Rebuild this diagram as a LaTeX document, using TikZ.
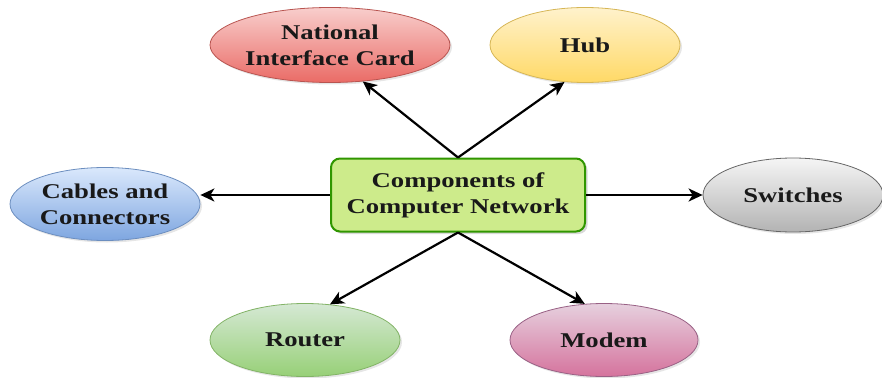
\documentclass[tikz,border=0pt]{standalone}
\usepackage{fontspec}
\setmainfont{Liberation Serif}[FakeStretch=1.27]
\usetikzlibrary{shapes.geometric,arrows.meta,shadows}
\begin{document}
\begin{tikzpicture}[x=1pt,y=-1pt,
  lbl/.style={font=\fontsize{21}{26}\selectfont\bfseries, align=center, text=black!90},
  oval/.style={lbl, ellipse, inner sep=0pt, line width=0.8pt,
    drop shadow={shadow xshift=2pt, shadow yshift=-2pt, opacity=0.2}},
  centerbox/.style={lbl, rectangle, rounded corners=9pt, draw=green!45!black!75!lime, line width=2pt,
    fill={rgb,255:red,205;green,235;blue,139}, minimum width=254pt, minimum height=73pt, inner sep=0pt,
    drop shadow={shadow xshift=2.5pt, shadow yshift=-2.5pt, opacity=0.3}},
  arr/.style={-{Stealth[length=14pt,width=13pt,inset=4pt]}, line width=2.2pt, black}
]
\definecolor{redt}{HTML}{F8CECC}\definecolor{redb}{HTML}{EA6B66}\definecolor{reds}{HTML}{B85450}
\definecolor{yelt}{HTML}{FFF2CC}\definecolor{yelb}{HTML}{FFD966}\definecolor{yels}{HTML}{D6B656}
\definecolor{blut}{HTML}{DAE8FC}\definecolor{blub}{HTML}{7EA6E0}\definecolor{blus}{HTML}{6C8EBF}
\definecolor{gryt}{HTML}{F5F5F5}\definecolor{gryb}{HTML}{B3B3B3}\definecolor{grys}{HTML}{666666}
\definecolor{grnt}{HTML}{D5E8D4}\definecolor{grnb}{HTML}{97D077}\definecolor{grns}{HTML}{82B366}
\definecolor{pnkt}{HTML}{E6D0DE}\definecolor{pnkb}{HTML}{D5739D}\definecolor{pnks}{HTML}{996185}
\useasboundingbox (0,0) rectangle (882,377);
\node[centerbox, text depth=4pt] (box) at (458,195) {Components of\\Computer Network};
\node[oval, draw=reds, top color=redt, bottom color=redb, minimum width=240pt, minimum height=75pt] (nic) at (330,45) {National\\Interface Card};
\node[oval, draw=yels, top color=yelt, bottom color=yelb, minimum width=190pt, minimum height=75pt] (hub) at (585,45) {Hub};
\node[oval, draw=blus, top color=blut, bottom color=blub, minimum width=190pt, minimum height=73pt] (cab) at (105,204) {Cables and\\Connectors};
\node[oval, draw=grys, top color=gryt, bottom color=gryb, minimum width=180pt, minimum height=74pt] (sw) at (793,195) {Switches};
\node[oval, draw=grns, top color=grnt, bottom color=grnb, minimum width=190pt, minimum height=73pt] (rt) at (305,340) {Router};
\node[oval, draw=pnks, top color=pnkt, bottom color=pnkb, minimum width=188pt, minimum height=73pt] (md) at (604,340) {Modem};
\draw[arr] (box.north) -- (nic.-48);
\draw[arr] (box.north) -- (hub.-119);
\draw[arr] (box.south) -- (rt.55);
\draw[arr] (box.south) -- (md.118);
\draw[arr] (box.west) -- (box.west -| cab.east);
\draw[arr] (box.east) -- (box.east -| sw.west);
\end{tikzpicture}
\end{document}
